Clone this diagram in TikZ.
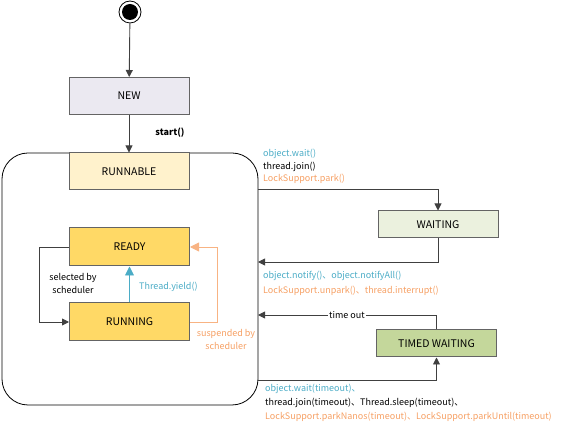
\documentclass[tikz,border=0pt]{standalone}
\usepackage{fontspec}
\setmainfont{Noto Sans CJK SC}
\usetikzlibrary{arrows.meta}
\tikzset{
  state/.style={draw=boxline,line width=1pt,minimum width=120pt,minimum height=37pt,inner sep=0pt,font=\fontsize{10.5}{12}\selectfont},
  flat/.style={state,minimum height=27pt},
  conn/.style={draw=black!75,line width=0.9pt,-{Triangle[width=7pt,length=7pt]}},
  lbl/.style={font=\fontsize{9}{10}\selectfont,inner sep=0pt,anchor=west},
}
\begin{document}
\begin{tikzpicture}[x=1pt,y=-1pt]
		\definecolor{boxline}{RGB}{100,100,100}
		\definecolor{newfill}{RGB}{235,233,241}
		\definecolor{runnablefill}{RGB}{255,242,204}
		\definecolor{gold}{RGB}{255,217,102}
		\definecolor{waitfill}{RGB}{235,241,222}
		\definecolor{timedfill}{RGB}{196,215,155}
		\definecolor{yieldblue}{RGB}{75,172,198}
		\definecolor{parkorange}{RGB}{246,160,100}
		\useasboundingbox (0,0) rectangle (563,430);
		% outer runnable frame
		\draw[line width=0.8pt,rounded corners=26pt] (2,153) rectangle (258,405);
		\coordinate (frameTop) at (258,189);
		\coordinate (frameNotify) at (258,262);
		\coordinate (frameTimeout) at (258,315);
		\coordinate (frameBottom) at (258,380);
		% start point
		\node[circle,draw,line width=0.8pt,minimum size=22pt,inner sep=0pt] (start) at (130,12) {};
		\fill (start) circle (8pt);
		\node[state,fill=newfill] (new) at (129,96) {NEW};
		\node[state,fill=runnablefill] (runnable) at (129,171.5) {RUNNABLE};
		\node[state,fill=gold,minimum height=38pt] (ready) at (129.5,247) {READY};
		\node[state,fill=gold,minimum height=38pt] (running) at (129.5,322) {RUNNING};
		\node[flat,fill=waitfill] (waiting) at (438,224.5) {WAITING};
		\node[flat,fill=timedfill] (timed) at (436.5,343.5) {TIMED WAITING};
		% transitions
		\draw[conn] (start) -- (new);
		\draw[conn] (new) -- (runnable);
		\node[font=\fontsize{9}{10}\selectfont\bfseries] (startcall) at (170,133) {start()};
		\draw[conn] (ready.west) -- (39,247) |- (running.west);
		\node[font=\fontsize{9}{12.5}\selectfont,align=center] (selected) at (73,283.5) {selected by\\scheduler};
		\draw[draw=yieldblue,line width=0.9pt,-{Triangle[width=9pt,length=9pt]}] (running.north) -- (ready.south);
		\node[lbl,text=yieldblue] (yield) at (139,287) {Thread.yield()};
		\draw[draw=parkorange!80,line width=0.9pt,-{Triangle[width=9pt,length=9pt]}] (running.east) -- (217,322) |- (ready.east);
		\node[font=\fontsize{9}{12.5}\selectfont,align=center,text=parkorange] (suspended) at (226,339.5) {suspended by\\scheduler};
		\draw[conn] (frameTop) -| (waiting.north);
		\node[lbl,text=yieldblue] (wait) at (263,154) {object.wait()};
		\node[lbl] (join) at (263,166.5) {thread.join()};
		\node[lbl,text=parkorange] (park) at (263,179) {LockSupport.park()};
		\draw[conn] (waiting.south) |- (frameNotify);
		\node[lbl,text=yieldblue] (notify) at (263,276) {object.notify()、object.notifyAll()};
		\node[lbl,text=parkorange] (unpark) at (263,291) {LockSupport.unpark()、thread.interrupt()};
		\draw[conn] (timed.north) |- (frameTimeout);
		\node[fill=white,font=\fontsize{9}{10}\selectfont,inner sep=1pt] (timeout) at (347,315) {time out};
		\draw[conn] (frameBottom) -| (timed.south);
		\node[lbl,text=yieldblue] (waittime) at (265,389) {object.wait(timeout)、};
		\node[lbl] (jointime) at (265,403) {thread.join(timeout)、Thread.sleep(timeout)、};
		\node[lbl,text=parkorange] (parktime) at (265,417) {LockSupport.parkNanos(timeout)、LockSupport.parkUntil(timeout)};
	\end{tikzpicture}
\end{document}
